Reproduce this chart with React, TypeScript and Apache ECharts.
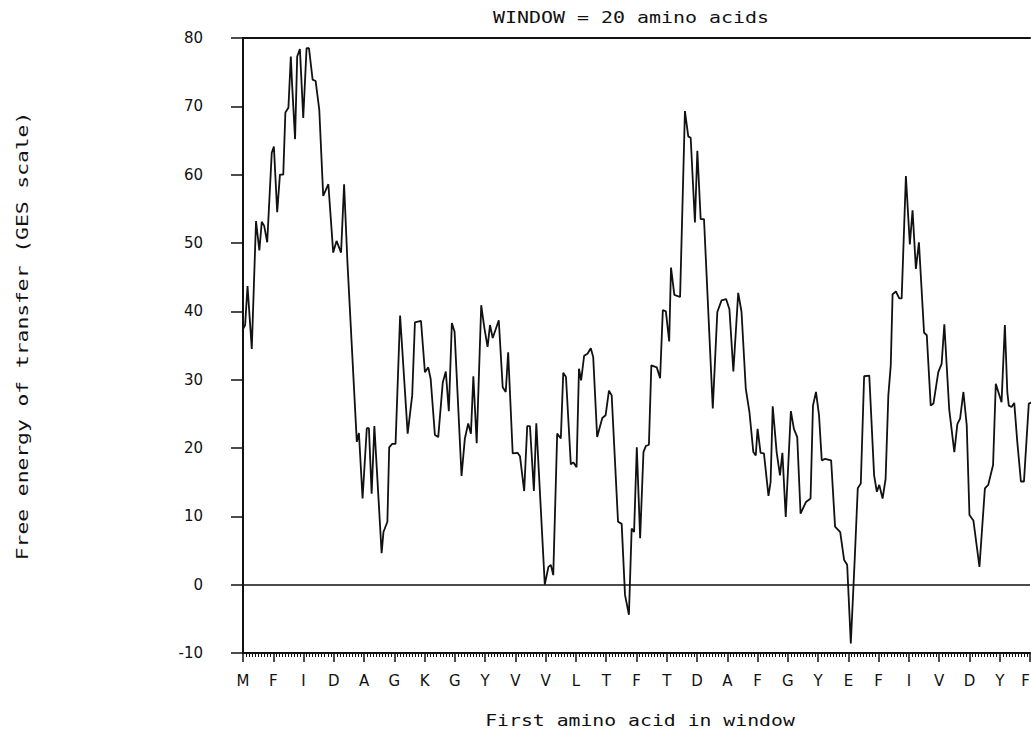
import React, { useEffect, useRef } from "react";
import * as echarts from "echarts";

// First residue of the window (position along the sequence)
const positions: number[] = [
  0, 0.7, 1.5, 2.9, 4.3, 5.4, 6.2, 7, 8.0, 9.5, 10.2, 11.3, 12.2, 13.3, 14.0, 15.0, 15.8, 16.2, 17.2, 17.9,
  18.8, 19.9, 21.0, 21.8, 23.0, 24.0, 25.2, 26.5, 28.2, 29.8, 30.9, 32.4, 33.4, 34.5, 37.6, 38.3, 39.5, 40.9,
  41.6, 42.5, 43.4, 45.8, 46.4, 47.7, 48.3, 49.3, 50.4, 51.9, 54.4, 55.9, 56.8, 58.8, 60.1, 61.2, 62.0, 63.4,
  64.5, 66.0, 67.0, 68.0, 69.0, 69.9, 72.2, 73.3, 74.4, 75.3, 76.1, 77.2, 78.7, 79.7, 80.8, 81.6, 82.5, 84.5,
  85.8, 86.8, 87.6, 89.1, 90.7, 91.5, 92.9, 93.9, 94.8, 96.1, 96.9, 99.7, 100.9, 101.7, 102.5, 103.8, 105.0,
  105.8, 106.7, 108.3, 109.1, 110.2, 111.0, 111.7, 112.7, 113.8, 114.9, 115.7, 117.0, 118.7, 119.8, 120.9,
  121.8, 123.9, 125.1, 126.2, 127.5, 128.4, 129.2, 130.1, 131.2, 132.3, 133.1, 134.1, 134.9, 136.7, 137.8,
  138.7, 139.7, 140.8, 141.4, 142.5, 144.4, 146.0, 147.1, 147.9, 149.3, 150.1, 151.2, 152.3, 155.2, 156.7,
  158.1, 159.6, 160.7, 162.0, 163.6, 164.7, 166.1, 167.3, 168.6, 169.4, 170.0, 171.0, 172.1, 173.6, 174.3,
  175.0, 176.3, 177.4, 178.2, 179.3, 181.0, 182.0, 183.1, 184.2, 186.0, 187.5, 188.3, 189.3, 190.3, 191.2,
  192.3, 194.3, 195.6, 197.3, 198.6, 199.6, 200.8, 202.1, 203.1, 204.1, 205.2, 206.9, 208.5, 209.4, 210.2,
  211.3, 212.3, 213.2, 214.0, 214.6, 215.7, 216.8, 217.6, 219.0, 220.3, 221.2, 222.3, 223.3, 225.0, 225.9,
  227.2, 228.1, 229.7, 230.8, 231.7, 233.3, 235.0, 236.0, 236.9, 238.0, 239.1, 240.0, 241.3, 243.3, 245.1,
  246.2, 247.8, 248.7, 250.6, 251.7, 252.5, 253.0, 253.9, 254.8, 255.8, 257.0, 258.0, 259.6, 261.4,
];

// Free energy of transfer (GES scale), window = 20
const energies: number[] = [
  37.4, 38, 43.7, 34.5, 53.2, 48.9, 53.1, 52.5, 50.1, 63.2, 64.1, 54.5, 60.0, 60.0, 69.1, 69.8, 77.3, 73.4, 65.2, 77.3,
  78.4, 68.3, 78.5, 78.5, 73.9, 73.7, 69.5, 56.9, 58.6, 48.6, 50.3, 48.6, 58.6, 47.2, 20.9, 22.2, 12.6, 22.9,
  22.9, 13.3, 23.2, 4.6, 7.7, 9.2, 20.1, 20.6, 20.6, 39.4, 22.1, 27.7, 38.4, 38.6, 31.1, 31.8, 30.1, 21.9,
  21.6, 29.6, 31.2, 25.4, 38.3, 37.0, 15.9, 21.4, 23.6, 22.1, 30.5, 20.7, 40.9, 37.7, 34.8, 38.0, 36.1, 38.7,
  28.9, 28.2, 34.0, 19.2, 19.3, 18.8, 13.7, 23.2, 23.2, 13.7, 23.6, 0, 2.6, 2.9, 1.4, 22.1, 21.4,
  31.0, 30.4, 17.6, 17.9, 17.2, 31.6, 29.9, 33.5, 33.8, 34.6, 33.3, 21.6, 24.4, 24.8, 28.4,
  27.7, 9.2, 8.9, -1.5, -4.4, 8.2, 7.7, 20.1, 6.8, 19.4, 20.3, 20.5, 32.1, 31.8, 30.2,
  40.2, 40.0, 35.6, 46.4, 42.4, 42.1, 69.3, 65.6, 65.4, 53.0, 63.5, 53.5, 53.5, 25.8, 39.9,
  41.6, 41.8, 40.3, 31.2, 42.7, 39.9, 28.7, 25.3, 19.4, 18.9, 22.8, 19.3, 19.2, 13.0, 15.0,
  26.1, 19.4, 16.0, 19.3, 9.9, 25.4, 22.8, 21.6, 10.4, 12.1, 12.6, 26.2, 28.2, 24.8, 18.2,
  18.4, 18.2, 8.5, 7.7, 3.6, 2.9, -8.6, 3.8, 14.1, 14.8, 30.5, 30.6, 16.0, 13.6, 14.6,
  12.6, 15.5, 27.7, 32.1, 42.5, 42.9, 41.9, 41.9, 59.8, 49.8, 54.8, 46.2, 50.1, 36.9, 36.5,
  26.2, 26.5, 31.1, 32.3, 38.1, 25.7, 19.4, 23.5, 24.3, 28.2, 23.3, 10.2, 9.4, 2.6, 14.1,
  14.6, 17.5, 29.4, 26.7, 38.0, 28.2, 26.2, 26.0, 26.6, 20.9, 15.1, 15.1, 26.5, 26.8,
];

// Amino acid at every 10th position (tick labels)
const residueLetters: string[] = [
  "M", "F", "I", "D", "A", "G", "K", "G", "Y", "V", "V", "L", "T", "F",
  "T", "D", "A", "F", "G", "Y", "E", "F", "I", "V", "D", "Y", "F",
];

const titleText = "WINDOW = 20 amino acids";
const xName = "First amino acid in window";
const yName = "Free energy of transfer (GES scale)";

export default function App() {
  const ref = useRef<HTMLDivElement>(null);

  useEffect(() => {
    if (!ref.current) return;
    const chart = echarts.init(ref.current, null, { renderer: "svg" });
    const ink = "#111";
    const mono = "15px 'DejaVu Sans Mono', monospace";
    const data = positions.map((p, i) => [p, energies[i]]);

    chart.setOption({
      animation: false,
      backgroundColor: "#fff",
      grid: {
        left: 243,
        right: 1,
        top: 38,
        bottom: 78,
        containLabel: false,
        outerBoundsMode: "none",
      },
      xAxis: [
        {
          type: "value",
          min: 0,
          max: 260,
          interval: 10,
          axisLine: { show: true, onZero: false, lineStyle: { color: ink, width: 2 } },
          axisTick: { show: true, length: 9, lineStyle: { color: ink, width: 1.5 } },
          minorTick: { show: true, splitNumber: 10, length: 4, lineStyle: { color: ink, width: 1 } },
          axisLabel: {
            margin: 20,
            color: ink,
            fontFamily: "'DejaVu Sans', sans-serif",
            fontSize: 15,
            alignMaxLabel: "right",
            formatter: (v: number) => residueLetters[Math.round(v / 10)] ?? "",
          },
          splitLine: { show: false },
          minorSplitLine: { show: false },
        },
        {
          type: "value",
          position: "top",
          min: 0,
          max: 260,
          axisLine: { show: true, onZero: false, lineStyle: { color: ink, width: 2 } },
          axisTick: { show: false },
          axisLabel: { show: false },
          splitLine: { show: false },
        },
      ],
      yAxis: {
        type: "value",
        min: -10,
        max: 80,
        interval: 10,
        axisLine: { show: true, onZero: false, lineStyle: { color: ink, width: 2 } },
        axisTick: { show: true, length: 12, lineStyle: { color: ink, width: 1.5 } },
        axisLabel: {
          margin: 40,
          color: ink,
          fontFamily: "'DejaVu Sans', sans-serif",
          fontSize: 15,
        },
        splitLine: { show: false },
      },
      graphic: [
        {
          type: "text",
          x: 631,
          y: 18,
          scaleX: 1.33,
          style: { text: titleText, font: mono, fill: ink, align: "center", verticalAlign: "middle" },
        },
        {
          type: "text",
          x: 640,
          y: 721,
          scaleX: 1.32,
          style: { text: xName, font: mono, fill: ink, align: "center", verticalAlign: "middle" },
        },
        {
          type: "text",
          x: 23,
          y: 336,
          rotation: Math.PI / 2,
          scaleX: 1.42,
          style: { text: yName, font: mono, fill: ink, align: "center", verticalAlign: "middle" },
        },
      ],
      series: [
        {
          type: "line",
          data,
          xAxisIndex: 0,
          symbol: "none",
          lineStyle: { color: ink, width: 1.8 },
          clip: true,
          markLine: {
            silent: true,
            symbol: ["none", "none"],
            label: { show: false },
            lineStyle: { color: ink, type: "solid", width: 1.6 },
            data: [{ yAxis: 0 }],
          },
        },
      ],
    });

    return () => chart.dispose();
  }, []);

  return (
    <div
      ref={ref}
      style={{ position: "fixed", left: 0, top: 0, width: 1031, height: 731, background: "#fff" }}
    />
  );
}
